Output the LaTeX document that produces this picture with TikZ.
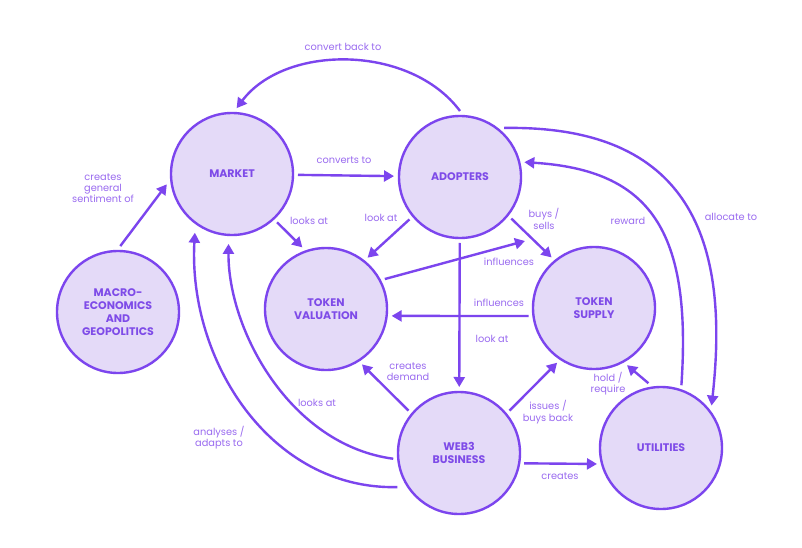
\documentclass[tikz,border=0pt]{standalone}
\usepackage{fontspec}
\setmainfont{Poppins}
\usetikzlibrary{arrows.meta,calc}
\definecolor{stk}{HTML}{7C45EE}
\definecolor{fillc}{HTML}{E4DAF8}
\definecolor{titc}{HTML}{7E4BE8}
\definecolor{labc}{HTML}{9A6BF0}
\begin{document}
\begin{tikzpicture}[x=1pt,y=-1pt,
  blob/.style={circle,draw=stk,fill=fillc,line width=2.4pt,minimum size=122pt,inner sep=0pt,outer sep=5pt,text=titc,font=\bfseries\fontsize{11}{13}\selectfont,align=center},
  lab/.style={text=labc,font=\fontsize{9.8}{11.3}\selectfont,align=center,inner sep=1pt},
  conn/.style={draw=stk,line width=2.4pt,-{Triangle[length=10pt,width=11pt]}}]
\useasboundingbox[fill=white] (0,0) rectangle (802,548);
% nodes
\node[blob] (market) at (232,174) {MARKET};
\node[blob] (adopt) at (460,177) {ADOPTERS};
\node[blob] (macro) at (118,312) {MACRO-\\ECONOMICS\\AND\\GEOPOLITICS};
\node[blob] (val) at (326,309) {TOKEN\\VALUATION};
\node[blob] (supply) at (594,308) {TOKEN\\SUPPLY};
\node[blob] (web3) at (459,453) {WEB3\\BUSINESS};
\node[blob] (util) at (661,448) {UTILITIES};
\coordinate (inflend) at (525,241);
% connectors
\draw[conn] (adopt.90) .. controls (410,44) and (285,44) .. (market.86);
\draw[conn] (market) -- (adopt);
\draw[conn] (macro.88) -- (market.189);
\draw[conn] (market.-47) -- (val.111);
\draw[conn] (adopt.220) -- (val.51);
\draw[conn] (adopt.-39) -- (supply.130);
\draw[conn] (val.27) -- (inflend);
\draw[conn] (supply.187) -- (val.-6);
\draw[conn] (adopt) -- (web3);
\draw[conn] (web3.140) -- (val.-57);
\draw[conn] (web3.40) -- (supply.236);
\draw[conn] (web3.-9) -- (util.194);
\draw[conn] (util.101) -- (supply.-60);
\draw[conn] (util.72) .. controls (692,230) and (650,170) .. (adopt.13);
\draw[conn] (adopt.48) .. controls (690,125) and (730,240) .. (util.40);
\draw[conn,shorten >=4pt] (web3.185) .. controls (290,445) and (228,330) .. (market.-93);
\draw[conn,shorten <=5pt,shorten >=4pt] (web3.211) .. controls (270,490) and (188,360) .. (market.236);
% labels
\node[lab] at (343,47) {convert back to};
\node[lab] at (344,160) {converts to};
\node[lab] at (103,188) {creates\\general\\sentiment of};
\node[lab] at (309,221) {looks at};
\node[lab] at (381,218) {look at};
\node[lab] at (544,219) {buys /\\sells};
\node[lab] at (628,221) {reward};
\node[lab] at (731,217) {allocate to};
\node[lab] at (509,262) {influences};
\node[lab] at (499,303) {influences};
\node[lab] at (492,339) {look at};
\node[lab] at (408,372) {creates\\demand};
\node[lab] at (317,403) {looks at};
\node[lab] at (219,438) {analyses /\\adapts to};
\node[lab] at (548,412) {issues /\\buys back};
\node[lab] at (608,384) {hold /\\require};
\node[lab] at (560,476) {creates};
\end{tikzpicture}
\end{document}
